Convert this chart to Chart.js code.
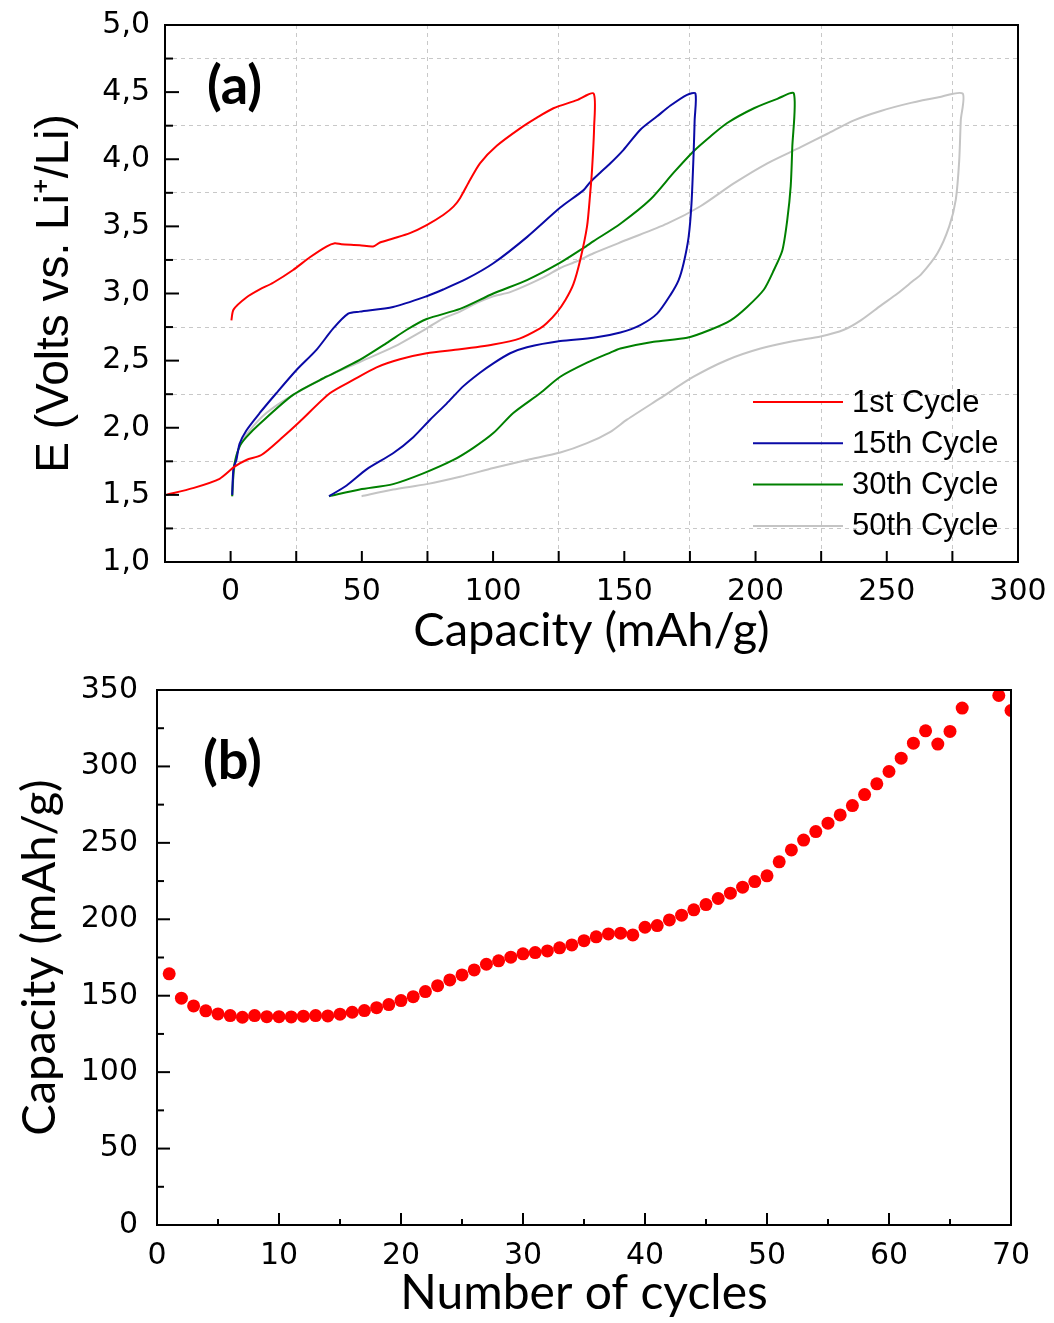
<!DOCTYPE html>
<html>
<head>
<meta charset="utf-8">
<title>Cycling</title>
<script src="https://cdn.jsdelivr.net/npm/chart.js@4.4.0/dist/chart.umd.min.js"></script>
<style>
	html, body { margin:0; padding:0; background:#fff; }
	#wrap { position:relative; width:1054px; height:1323px; }
	canvas { position:absolute; left:0; }
	#chart-a { top:0; }
	#chart-b { top:660px; }
</style>
</head>
<body>
<div id="wrap">
	<canvas id="chart-a" width="1054" height="660"></canvas>
	<canvas id="chart-b" width="1054" height="663"></canvas>
</div>
<script>

// (a) charge / discharge profiles : capacity (mAh/g) and potential (V)
var cap1  = [0.3,1.1,6.0,11.1,16.2,23.8,30.2,36.5,39.7,42.2,49.2,54.3,56.9,61.9,68.3,74.7,81.0,84.9,87.4,91.2,95.0,101.4,110.3,116.7,123.0,131.9,138.3,138.5,137.7,137.0,135.8,133.2,130.6,127.5,124.3,120.5,117.9,110.3,100.1,87.4,74.7,64.5,55.6,46.7,37.8,26.3,20.0,11.7,6.0,1.5,-4.2,-14.4,-24.5];
var volt1 = [2.80,2.88,2.97,3.03,3.08,3.175,3.27,3.35,3.374,3.367,3.36,3.35,3.38,3.41,3.45,3.51,3.585,3.647,3.71,3.845,3.97,4.10,4.23,4.31,4.38,4.44,4.49,4.24,3.92,3.746,3.50,3.25,3.07,2.95,2.86,2.78,2.74,2.666,2.62,2.584,2.555,2.51,2.45,2.356,2.257,2.045,1.933,1.797,1.76,1.71,1.62,1.55,1.50];

var cap15  = [37.5,44.2,51.8,61.9,69.6,76.0,82.3,88.7,95.0,100.1,106.5,112.9,125.6,138.3,148.5,156.1,162.5,167.6,170.7,172.6,174.5,175.6,176.4,176.8,177.1,173.9,167.6,162.5,156.1,149.7,144.7,140.8,137.0,134.5,125.6,112.9,100.1,90.0,81.0,74.7,61.9,49.2,44.8,39.1,32.7,25.1,17.4,11.1,6.0,3.4,2.2,1.1,0.6];
var volt15 = [1.49,1.57,1.69,1.81,1.93,2.06,2.18,2.31,2.41,2.48,2.555,2.60,2.646,2.67,2.71,2.765,2.85,2.99,3.10,3.225,3.42,3.67,4.04,4.29,4.49,4.48,4.40,4.32,4.22,4.07,3.97,3.90,3.83,3.77,3.64,3.42,3.225,3.11,3.03,2.98,2.90,2.865,2.85,2.74,2.58,2.43,2.257,2.11,1.98,1.88,1.76,1.70,1.50];

var cap30  = [37.5,49.2,61.9,73.4,84.9,92.5,100.1,107.7,117.9,125.6,135.8,144.7,148.5,161.2,173.9,182.8,190.5,196.8,203.2,207.0,210.2,212.1,213.4,214.0,214.6,208.3,199.4,189.2,182.8,176.4,168.8,159.9,148.5,138.3,134.5,125.6,112.9,100.1,87.4,74.7,67.1,59.4,49.2,36.5,23.8,11.1,6.0,3.4,1.5,0.9,0.6];
var volt30 = [1.49,1.54,1.58,1.66,1.76,1.85,1.96,2.11,2.257,2.38,2.485,2.56,2.59,2.64,2.67,2.73,2.80,2.90,3.03,3.175,3.32,3.55,3.80,4.09,4.49,4.45,4.38,4.27,4.17,4.06,3.90,3.70,3.52,3.39,3.34,3.23,3.10,3.00,2.885,2.81,2.73,2.63,2.505,2.38,2.245,2.03,1.93,1.86,1.735,1.61,1.49];

var cap50  = [49.9,61.9,74.7,87.4,100.1,112.9,125.6,135.8,144.7,151.0,163.7,176.4,189.2,201.9,214.6,224.8,233.7,240.1,247.7,254.1,260.4,263.0,269.3,273.8,276.3,277.6,278.2,278.9,269.3,259.2,247.7,237.5,227.4,217.2,204.5,191.7,179.0,166.3,151.0,138.3,131.9,125.6,119.2,106.5,100.1,93.8,87.4,81.0,74.7,61.9,49.2,36.5,23.8,13.6,7.3,3.4,1.5,0.6];
var volt50 = [1.49,1.54,1.58,1.635,1.70,1.76,1.815,1.885,1.97,2.06,2.22,2.38,2.505,2.59,2.646,2.68,2.73,2.80,2.91,3.00,3.10,3.14,3.30,3.50,3.70,3.99,4.29,4.49,4.46,4.42,4.36,4.29,4.19,4.09,3.97,3.82,3.65,3.52,3.40,3.30,3.24,3.19,3.12,3.01,2.98,2.93,2.865,2.815,2.74,2.60,2.49,2.38,2.245,2.11,1.98,1.86,1.71,1.49];

var cycleNames = ["1st Cycle", "15th Cycle", "30th Cycle", "50th Cycle"];

// (b) capacity vs cycle number (67 and 68 are off the top of the plot)
var cycles = [1,2,3,4,5,6,7,8,9,10,11,12,13,14,15,16,17,18,19,20,21,22,23,24,25,26,27,28,29,30,31,32,33,34,35,36,37,38,39,40,41,42,43,44,45,46,47,48,49,50,51,52,53,54,55,56,57,58,59,60,61,62,63,64,65,66,69,70];
var cycleCapacity = [164.3,148.4,143.3,140.1,138.1,137.0,135.9,137.0,136.3,136.3,136.1,136.6,137.0,136.8,137.9,139.2,140.3,142.2,144.2,146.8,149.4,152.7,156.6,160.3,163.6,166.9,170.6,172.8,175.2,177.4,178.2,179.3,181.3,183.2,186.0,188.5,190.4,190.9,189.8,194.8,195.9,199.6,202.7,206.2,209.6,213.6,217.1,221.0,224.7,228.4,237.6,245.4,251.8,257.4,262.9,268.3,274.4,281.6,288.6,296.7,305.4,315.2,323.3,314.6,322.9,338.2,346.4,336.6];


function pairs(xs, ys) {
	return xs.map(function(x, i){ return {x: x, y: ys[i]}; });
}

Chart.defaults.font.family = "'DejaVu Sans', sans-serif";
Chart.defaults.color = "#000";
Chart.defaults.animation = false;

var clear = "rgba(0,0,0,0)";

// box round the plot + inward tick marks
var frameTicks = {
	id: 'frameTicks',
	afterDatasetsDraw: function(chart, args, opts) {
		var a = chart.chartArea, c = chart.ctx;
		var xs = chart.scales.x, ys = chart.scales.y;
		c.save();
		c.strokeStyle = "#000";
		c.lineWidth = 2;
		xs.ticks.forEach(function(t){
			var p = xs.getPixelForValue(t.value);
			var len = t.label !== '' ? opts.xMajor : opts.xMinor;
			c.beginPath(); c.moveTo(p, a.bottom); c.lineTo(p, a.bottom - len); c.stroke();
		});
		ys.ticks.forEach(function(t){
			var p = ys.getPixelForValue(t.value);
			var len = t.label !== '' ? opts.yMajor : opts.yMinor;
			c.beginPath(); c.moveTo(a.left, p); c.lineTo(a.left + len, p); c.stroke();
		});
		c.strokeRect(a.left, a.top, a.right - a.left, a.bottom - a.top);
		c.restore();
	}
};

var panelTag = {
	id: 'panelTag',
	afterDraw: function(chart, args, opts) {
		var a = chart.chartArea, c = chart.ctx;
		c.save();
		c.font = "bold 54px Lato";
		c.fillStyle = "#000";
		c.textBaseline = "middle";
		c.fillText(opts.text, a.left + opts.dx, a.top + opts.dy);
		c.restore();
	}
};

// legend sits inside the plot, lower right
var innerLegend = {
	id: 'innerLegend',
	afterDatasetsDraw: function(chart, args, opts) {
		var a = chart.chartArea, c = chart.ctx;
		c.save();
		c.font = "31px 'Liberation Sans'";
		c.textBaseline = "middle";
		c.fillStyle = "#000";
		chart.data.datasets.forEach(function(ds, i){
			var x = a.right - opts.right;
			var y = a.top + opts.top + i * opts.gap;
			c.strokeStyle = ds.borderColor;
			c.lineWidth = 2;
			c.beginPath(); c.moveTo(x, y); c.lineTo(x + opts.lineLen, y); c.stroke();
			c.fillText(ds.label, x + opts.lineLen + 9, y + 1);
		});
		c.restore();
	}
};

function isOdd25(v) { return Math.round(v / 25) % 2 !== 0; }

new Chart(document.getElementById("chart-a"), {
	type: 'line',
	data: {
		datasets: [
			{ label: cycleNames[0], data: pairs(cap1, volt1), borderColor: "#ff0000" },
			{ label: cycleNames[1], data: pairs(cap15, volt15), borderColor: "#0a0aa6" },
			{ label: cycleNames[2], data: pairs(cap30, volt30), borderColor: "#008000" },
			{ label: cycleNames[3], data: pairs(cap50, volt50), borderColor: "#c4c4c4" }
		]
	},
	options: {
		responsive: false,
		devicePixelRatio: 1,
		layout: { padding: { top: 25, right: 36, left: 0, bottom: 0 } },
		elements: {
			line: { borderWidth: 2, tension: 0.25, fill: false },
			point: { radius: 0, hoverRadius: 0 }
		},
		plugins: {
			legend: { display: false },
			tooltip: { enabled: false },
			frameTicks: { xMajor: 11, xMinor: 11, yMajor: 14, yMinor: 8 },
			panelTag: { text: "(a)", dx: 42, dy: 62 },
			innerLegend: { right: 265, top: 377, gap: 41.3, lineLen: 90 }
		},
		scales: {
			x: {
				type: 'linear', min: -25, max: 300,
				afterFit: function(s){ s.height = 98; },
				ticks: {
					stepSize: 25, autoSkip: false, maxRotation: 0, padding: 0,
					font: { size: 30 },
					callback: function(v){ return v % 50 === 0 ? String(v) : ''; }
				},
				grid: {
					drawTicks: true, tickLength: 12, tickColor: clear, lineWidth: 1,
					color: function(ctx){ var v = ctx.tick.value; return (v > -25 && isOdd25(v)) ? "#c8c8c8" : clear; }
				},
				border: { display: false, dash: [4, 4] },
				title: { display: true, text: "Capacity (mAh/g)", font: { family: "Lato", size: 47 }, padding: { top: 0, bottom: 1 } }
			},
			y: {
				type: 'linear', min: 1, max: 5,
				afterFit: function(s){ s.width = 165; },
				ticks: {
					stepSize: 0.25, autoSkip: false, padding: 0,
					font: { size: 30 },
					callback: function(v){ return Math.abs(v * 2 - Math.round(v * 2)) < 1e-6 ? v.toFixed(1).replace('.', ',') : ''; }
				},
				grid: {
					drawTicks: true, tickLength: 15, tickColor: clear, lineWidth: 1,
					color: function(ctx){ var q = Math.round(ctx.tick.value * 4); return (q % 2 !== 0) ? "#c8c8c8" : clear; }
				},
				border: { display: false, dash: [4, 4] },
				title: { display: true, text: "E (Volts vs. Li\u207A/Li)", font: { family: "'Liberation Sans'", size: 46 }, padding: { top: 28, bottom: 0 } }
			}
		}
	},
	plugins: [frameTicks, panelTag, innerLegend]
});

new Chart(document.getElementById("chart-b"), {
	type: 'scatter',
	data: {
		datasets: [{
			label: "Capacity",
			data: pairs(cycles, cycleCapacity),
			backgroundColor: "#ff0000",
			borderWidth: 0,
			pointRadius: 6.5,
			pointHoverRadius: 6.5,
			clip: 0
		}]
	},
	options: {
		responsive: false,
		devicePixelRatio: 1,
		layout: { padding: { top: 30, right: 43, left: 0, bottom: 0 } },
		plugins: {
			legend: { display: false },
			tooltip: { enabled: false },
			frameTicks: { xMajor: 12, xMinor: 6, yMajor: 13, yMinor: 7 },
			panelTag: { text: "(b)", dx: 46, dy: 72 }
		},
		scales: {
			x: {
				type: 'linear', min: 0, max: 70,
				afterFit: function(s){ s.height = 98; },
				ticks: {
					stepSize: 5, autoSkip: false, maxRotation: 0, padding: 0,
					font: { size: 30 },
					callback: function(v){ return v % 10 === 0 ? String(v) : ''; }
				},
				grid: { drawOnChartArea: false, drawTicks: true, tickLength: 13, tickColor: clear },
				border: { display: false },
				title: { display: true, text: "Number of cycles", font: { family: "Lato", size: 48 }, padding: { top: 0, bottom: 1 } }
			},
			y: {
				type: 'linear', min: 0, max: 350,
				afterFit: function(s){ s.width = 157; },
				ticks: {
					stepSize: 25, autoSkip: false, padding: 0,
					font: { size: 30 },
					callback: function(v){ return v % 50 === 0 ? String(v) : ''; }
				},
				grid: { drawOnChartArea: false, drawTicks: true, tickLength: 19, tickColor: clear },
				border: { display: false },
				title: { display: true, text: "Capacity (mAh/g)", font: { family: "Lato", size: 47 }, padding: { top: 12, bottom: 0 } }
			}
		}
	},
	plugins: [frameTicks, panelTag]
});

</script>
</body>
</html>
